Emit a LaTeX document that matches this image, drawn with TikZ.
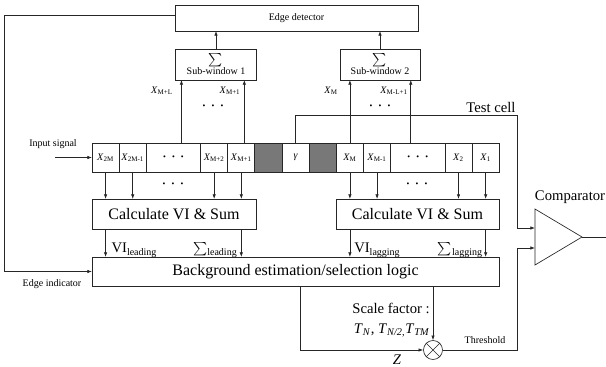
\documentclass[tikz,border=0pt]{standalone}
\usepackage{fontspec}
\setmainfont{Liberation Serif}
\usetikzlibrary{arrows.meta,positioning}
\definecolor{shadegray}{RGB}{120,120,120}
\newcommand{\dotz}{{\fontsize{6}{6}\selectfont •\hspace{4.6pt}•\hspace{4.6pt}•}}
\newcommand{\lowsub}[1]{\raisebox{-2.2pt}{\fontsize{7.5}{9}\selectfont #1}}

\begin{document}
\begin{tikzpicture}[x=0.75pt,y=-0.75pt,
  every node/.style={font=\fontsize{7.5}{9}\selectfont,inner sep=0pt},
  box/.style={draw=black!85,line width=.6pt,outer sep=0pt},
  cell/.style={box,minimum width=20.36pt,minimum height=21.75pt},
  dotcell/.style={cell,minimum width=40.73pt},
  shaded/.style={cell,fill=shadegray},
  big/.style={font=\fontsize{12}{14}\selectfont},
  lbl/.style={font=\fontsize{11}{15}\selectfont},
  arr/.style={draw=black!85,line width=.5pt,-{Latex[length=3.5pt,width=2.6pt]}},
  wire/.style={draw=black!85,line width=.5pt}]
\useasboundingbox (0,0) rectangle (606,367);
% top blocks
\node[box,minimum width=182.25pt,minimum height=19.5pt] (edet) at (296.5,18) {Edge detector};
\node[box,minimum width=60.75pt,minimum height=23.25pt,align=center] (sw1) at (216,64.5) {$\sum$\\Sub-window 1};
\node[box,minimum width=60pt,minimum height=23.25pt,align=center] (sw2) at (380,64.5) {$\sum$\\Sub-window 2};
% delay line
\node[cell,anchor=west] (x2m) at (92,157.5) {\textit{X}\textsubscript{2M}};
\node[cell,right=0pt of x2m] (x2m1) {\textit{X}\textsubscript{2M-1}};
\node[dotcell,right=0pt of x2m1] (dotl) {\dotz};
\node[cell,right=0pt of dotl] (xm2) {\textit{X}\textsubscript{M+2}};
\node[cell,right=0pt of xm2] (xm1) {\textit{X}\textsubscript{M+1}};
\node[shaded,right=0pt of xm1] (shl) {};
\node[cell,right=0pt of shl] (gam) {\textit{γ}};
\node[shaded,right=0pt of gam] (shr) {};
\node[cell,right=0pt of shr] (xm) {\textit{X}\textsubscript{M}};
\node[cell,right=0pt of xm] (xmm1) {\textit{X}\textsubscript{M-1}};
\node[dotcell,right=0pt of xmm1] (dotr) {\dotz};
\node[cell,right=0pt of dotr] (x2) {\textit{X}\textsubscript{2}};
\node[cell,right=0pt of x2] (x1) {\textit{X}\textsubscript{1}};
% processing blocks
\node[box,big,minimum width=123pt,minimum height=22.5pt] (calcl) at (174,214) {Calculate VI \& Sum};
\node[box,big,minimum width=122.25pt,minimum height=22.5pt] (calcr) at (417.5,214) {Calculate VI \& Sum};
\node[box,big,minimum width=305.25pt,minimum height=21.75pt] (bg) at (295.5,271.5) {Background estimation/selection logic};
\node[draw=black!85,line width=.5pt,circle,minimum size=14.25pt] (mul) at (433,350) {};
\draw[wire] (mul.45) -- (mul.225) (mul.135) -- (mul.315);
% comparator
\coordinate (cin1) at (535,228);
\coordinate (cin2) at (535,248);
\coordinate (cmp) at (582,237);
\coordinate (cend) at (606,237);
\draw[wire] (535,209) -- (cmp) -- (535,265) -- cycle;
\draw[wire] (cmp) -- (cend);
\node[lbl] at (570,197) {Comparator};
% input and sub-windows
\coordinate (insig) at (55,157.5);
\draw[arr] (insig) -- (x2m.west);
\node at (53,144) {Input signal};
\draw[arr] ([xshift=6pt]dotl.north) -- ([xshift=6pt]dotl.north |- sw1.south);
\draw[arr] ([xshift=2.25pt]xm1.north) -- ([xshift=2.25pt]xm1.north |- sw1.south);
\draw[arr] (xm.north) -- (xm.north |- sw2.south);
\draw[arr] ([xshift=-5.25pt]dotr.north) -- ([xshift=-5.25pt]dotr.north |- sw2.south);
\draw[arr] (sw1.north) -- (sw1.north |- edet.south);
\draw[arr] (sw2.north) -- (sw2.north |- edet.south);
\node at (162,91) {\textit{X}\textsubscript{M+L}};
\node at (230,91) {\textit{X}\textsubscript{M+1}};
\node at (213,107) {\dotz};
\node at (331,91) {\textit{X}\textsubscript{M}};
\node at (394,91) {\textit{X}\textsubscript{M-L+1}};
\node at (380,107) {\dotz};
% cells to blocks
\foreach \c in {x2m,x2m1,xm2,xm1} \draw[arr] (\c.south) -- (\c.south |- calcl.north);
\foreach \c in {xm,xmm1,x2,x1} \draw[arr] (\c.south) -- (\c.south |- calcr.north);
\node at (173,185) {\dotz};
\node at (417,185) {\dotz};
\foreach \c in {x2m,xm1} \draw[arr] (\c.south |- calcl.south) -- (\c.south |- bg.north);
\foreach \c in {xm,x1} \draw[arr] (\c.south |- calcr.south) -- (\c.south |- bg.north);
\node[lbl] at (134,250) {VI\lowsub{leading}};
\node[lbl] at (215,250) {$\sum$\lowsub{leading}};
\node[lbl] at (377,250) {VI\lowsub{lagging}};
\node[lbl] at (460,250) {$\sum$\lowsub{lagging}};
% edge feedback
\coordinate (fb) at (4,271.5);
\draw[arr] ([yshift=2.25pt]edet.west) -| (fb) -- (bg.west);
\node at (52,284) {Edge indicator};
% test cell and threshold
\coordinate (tc) at (517,115.5);
\coordinate (thr) at (517,350);
\draw[arr] (gam.north) |- (tc) |- (cin1);
\node[lbl] at (491,107) {Test cell};
\draw[arr] (mul.north |- bg.south) -- (mul.north);
\draw[arr] ([xshift=3.4pt]bg.south) |- (mul.west);
\draw[arr] (mul.east) -- (thr) |- (cin2);
\node at (485,340) {Threshold};
\node[lbl] at (397,360) {\textit{Z}};
\node[lbl,align=right,anchor=east] at (430,320) {Scale factor :\\\textit{T}\textsubscript{\textit{N}}, \textit{T}\textsubscript{\textit{N/2},}\textit{T}\textsubscript{\textit{TM}}};
\end{tikzpicture}
\end{document}
